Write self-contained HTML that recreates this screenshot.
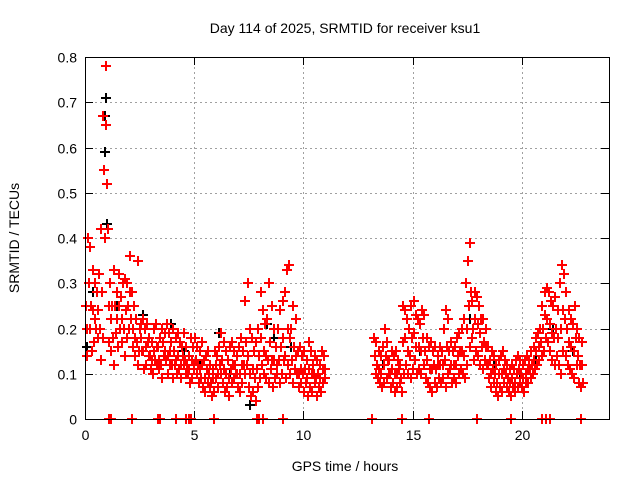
<!DOCTYPE html>
<html><head><meta charset="utf-8"><style>
body{margin:0;background:#fff;}
svg{display:block;font-family:"Liberation Sans",sans-serif;}
</style></head><body>
<svg id="chart" width="640" height="480" viewBox="0 0 640 480">
<rect x="0" y="0" width="640" height="480" fill="#fff"/>
<text x="345" y="33" font-size="14" text-anchor="middle">Day 114 of 2025, SRMTID for receiver ksu1</text>
<text x="345" y="471" font-size="14" text-anchor="middle">GPS time / hours</text>
<text x="19" y="238" font-size="14" text-anchor="middle" transform="rotate(-90 19 238)">SRMTID / TECUs</text>
<g id="grid" shape-rendering="crispEdges"></g><g id="ticks" shape-rendering="crispEdges"></g><g id="black" shape-rendering="crispEdges"></g><g id="red" shape-rendering="crispEdges"></g>
<rect x="85.5" y="57.5" width="524" height="362" fill="none" stroke="#000" stroke-width="1" shape-rendering="crispEdges"/>
</svg>
<script>
const xTicks=[0,5,10,15,20];
const yTicks=[0,0.1,0.2,0.3,0.4,0.5,0.6,0.7,0.8];
const yTickLabels=["0","0.1","0.2","0.3","0.4","0.5","0.6","0.7","0.8"];
const segStarts=[0,13.2];
const seg1Hi=[0.25,0.40,0.38,0.33,0.30,0.28,0.32,0.42,0.67,0.78,
0.42,0.30,0.25,0.33,0.28,0.32,0.27,0.30,0.31,0.30,
0.36,0.28,0.25,0.22,0.35,0.21,0.22,0.20,0.21,0.18,
0.17,0.20,0.21,0.16,0.18,0.20,0.19,0.21,0.19,0.17,
0.20,0.18,0.19,0.17,0.16,0.19,0.16,0.14,0.18,0.16,
0.18,0.16,0.15,0.17,0.13,0.14,0.15,0.12,0.11,0.15,
0.14,0.16,0.19,0.17,0.15,0.13,0.16,0.17,0.15,0.14,
0.16,0.18,0.15,0.26,0.30,0.20,0.18,0.15,0.17,0.20,
0.28,0.24,0.21,0.22,0.30,0.25,0.20,0.16,0.20,0.24,
0.26,0.28,0.33,0.34,0.20,0.25,0.22,0.15,0.16,0.14,
0.15,0.13,0.17,0.15,0.12,0.14,0.13,0.12,0.15,0.14];
const seg1Mid=[0.20,0.30,0.25,0.24,0.22,0.24,0.20,0.28,0.55,0.65,
0.25,0.22,0.18,0.25,0.22,0.25,0.22,0.20,0.24,0.25,
0.28,0.20,0.18,0.17,0.15,0.18,0.15,0.16,0.17,0.14,
0.13,0.15,0.16,0.13,0.12,0.17,0.15,0.14,0.15,0.12,
0.15,0.13,0.14,0.12,0.14,0.13,0.12,0.11,0.13,0.12,
0.13,0.12,0.11,0.12,0.09,0.11,0.10,0.08,0.09,0.12,
0.10,0.12,0.13,0.11,0.10,0.09,0.11,0.12,0.12,0.10,
0.10,0.12,0.12,0.17,0.14,0.10,0.11,0.09,0.11,0.14,
0.18,0.15,0.14,0.13,0.17,0.13,0.13,0.12,0.13,0.16,
0.18,0.14,0.20,0.18,0.13,0.16,0.14,0.10,0.11,0.10,
0.11,0.09,0.11,0.10,0.10,0.09,0.10,0.09,0.11,0.11];
const seg1Lo=[0.14,0.20,0.15,0.17,0.20,0.18,0.13,0.18,0.40,0.52,
0.17,0.15,0.12,0.19,0.16,0.20,0.17,0.14,0.18,0.20,
0.22,0.16,0.14,0.12,0.20,0.15,0.11,0.12,0.14,0.11,
0.10,0.13,0.12,0.11,0.09,0.14,0.13,0.10,0.12,0.09,
0.12,0.10,0.11,0.09,0.12,0.10,0.10,0.08,0.09,0.11,
0.10,0.08,0.09,0.07,0.06,0.08,0.07,0.05,0.06,0.09,
0.07,0.10,0.08,0.06,0.07,0.05,0.08,0.09,0.10,0.07,
0.06,0.08,0.10,0.12,0.07,0.05,0.06,0.04,0.07,0.09,
0.12,0.10,0.09,0.08,0.11,0.07,0.09,0.10,0.08,0.10,
0.13,0.09,0.12,0.10,0.08,0.11,0.10,0.07,0.08,0.06,
0.08,0.05,0.07,0.06,0.08,0.05,0.07,0.06,0.08,0.09];
const seg2Hi=[0.18,0.17,0.15,0.14,0.16,0.20,0.17,0.13,0.15,0.14,
0.15,0.13,0.12,0.25,0.24,0.22,0.20,0.25,0.26,0.23,
0.22,0.21,0.24,0.23,0.18,0.16,0.17,0.15,0.16,0.14,
0.16,0.15,0.20,0.24,0.22,0.17,0.15,0.16,0.18,0.19,
0.20,0.22,0.30,0.35,0.39,0.26,0.28,0.27,0.25,0.22,
0.22,0.20,0.16,0.13,0.15,0.14,0.12,0.13,0.14,0.15,
0.13,0.12,0.11,0.12,0.11,0.13,0.14,0.13,0.12,0.13,
0.14,0.13,0.15,0.16,0.18,0.19,0.20,0.25,0.28,0.29,
0.28,0.26,0.25,0.27,0.24,0.30,0.34,0.32,0.28,0.24,
0.22,0.21,0.25,0.20,0.18,0.17];
const seg2Mid=[0.14,0.12,0.11,0.10,0.12,0.14,0.13,0.10,0.11,0.10,
0.10,0.11,0.09,0.17,0.18,0.15,0.14,0.18,0.19,0.16,
0.16,0.15,0.18,0.15,0.13,0.11,0.11,0.12,0.11,0.12,
0.12,0.12,0.13,0.16,0.15,0.12,0.12,0.12,0.14,0.15,
0.15,0.14,0.20,0.25,0.28,0.20,0.22,0.21,0.19,0.16,
0.17,0.16,0.12,0.10,0.11,0.10,0.08,0.10,0.10,0.11,
0.10,0.09,0.08,0.09,0.08,0.10,0.11,0.10,0.09,0.10,
0.11,0.11,0.12,0.13,0.15,0.16,0.17,0.20,0.23,0.22,
0.21,0.19,0.18,0.20,0.18,0.20,0.24,0.22,0.20,0.17,
0.16,0.15,0.18,0.14,0.12,0.12];
const seg2Lo=[0.10,0.09,0.08,0.07,0.08,0.09,0.10,0.07,0.08,0.06,
0.07,0.08,0.06,0.10,0.12,0.10,0.09,0.11,0.13,0.10,
0.11,0.10,0.12,0.09,0.08,0.07,0.06,0.08,0.07,0.09,
0.08,0.09,0.07,0.10,0.11,0.08,0.09,0.08,0.10,0.11,
0.10,0.09,0.12,0.16,0.18,0.13,0.15,0.14,0.12,0.11,
0.13,0.12,0.09,0.07,0.08,0.06,0.05,0.07,0.06,0.08,
0.07,0.06,0.05,0.07,0.06,0.07,0.08,0.07,0.06,0.08,
0.08,0.09,0.10,0.11,0.12,0.13,0.14,0.15,0.18,0.17,
0.15,0.13,0.12,0.14,0.12,0.10,0.15,0.14,0.12,0.11,
0.10,0.09,0.12,0.08,0.07,0.08];
const blackT=[0.05,0.3,0.85,0.88,0.92,0.95,1.4,2.6,3.9,4.5,5.2,6.1,6.6,7.5,8.3,8.6,9.4,10.2,13.6,15.3,17.6,18.7,19.9,20.6,21.4,22.3];
const blackV=[0.16,0.28,0.59,0.67,0.71,0.43,0.25,0.23,0.21,0.15,0.12,0.19,0.10,0.03,0.21,0.18,0.16,0.11,0.12,0.15,0.22,0.12,0.10,0.13,0.20,0.15];
const zeroT=[1.05,1.15,2.1,3.3,3.4,4.12,4.58,4.72,4.81,5.86,7.83,7.92,8.1,9.02,13.1,14.48,15.71,17.91,19.47,20.89,21.07,21.25,22.67];

const NS="http://www.w3.org/2000/svg";
const X0=85,X1=609,Y0=419,Y1=57,XMAX=24,YMAX=0.8;
function xs(t){return X0+(X1-X0)*t/XMAX;}
function ys(v){return Y0-(Y0-Y1)*v/YMAX;}
function mk(tag,attrs,parent){const e=document.createElementNS(NS,tag);for(const k in attrs)e.setAttribute(k,attrs[k]);parent.appendChild(e);return e;}
const grid=document.getElementById('grid'),ticks=document.getElementById('ticks');
yTicks.forEach((v,i)=>{
  const y=Math.round(ys(v))+0.5;
  if(v>0&&v<YMAX){const g=mk('line',{x1:X0,x2:X1,y1:y,y2:y,stroke:'#a0a0a0','stroke-dasharray':'2,3'},grid);
  
  }
  mk('line',{x1:X0,x2:X0+8,y1:y,y2:y,stroke:'#000'},ticks);
  mk('line',{x1:X1,x2:X1-8,y1:y,y2:y,stroke:'#000'},ticks);
  const t=mk('text',{x:X0-8,y:y+5,'font-size':14,'text-anchor':'end'},ticks);
  t.textContent=yTickLabels[i];
  
  
});
xTicks.forEach(v=>{
  const x=Math.round(xs(v))+0.5;
  if(v>0){const g=mk('line',{x1:x,x2:x,y1:Y0,y2:Y1,stroke:'#a0a0a0','stroke-dasharray':'2,3'},grid);
  
  }
  mk('line',{x1:x,x2:x,y1:Y0,y2:Y0-8,stroke:'#000'},ticks);
  mk('line',{x1:x,x2:x,y1:Y1,y2:Y1+8,stroke:'#000'},ticks);
  const t=mk('text',{x:x,y:Y0+21,'font-size':14,'text-anchor':'middle'},ticks);
  t.textContent=String(v);
  
  
});
function cross(t,v,color,parent,name){
  const x=Math.round(xs(t)),y=Math.round(ys(v));
  const p=mk('path',{d:`M${x-4},${y-1}h10v2h-10zM${x},${y-5}h2v10h-2z`,fill:color,stroke:'none'},parent);
  
  
}
const black=document.getElementById('black'),red=document.getElementById('red');
blackT.forEach((t,i)=>cross(t,blackV[i],'#000',black,'black-point'));
[[seg1Hi,seg1Mid,seg1Lo],[seg2Hi,seg2Mid,seg2Lo]].forEach((s,si)=>{
  s[0].forEach((_,i)=>{
    const t=segStarts[si]+i*0.1;
    cross(t,s[0][i],'#f00',red,'red-point');
    cross(t+0.033,s[1][i],'#f00',red,'red-point');
    cross(t+0.066,s[2][i],'#f00',red,'red-point');
  });
});
zeroT.forEach(t=>cross(t,0,'#f00',red,'red-zero-point'));
</script>
</body></html>
